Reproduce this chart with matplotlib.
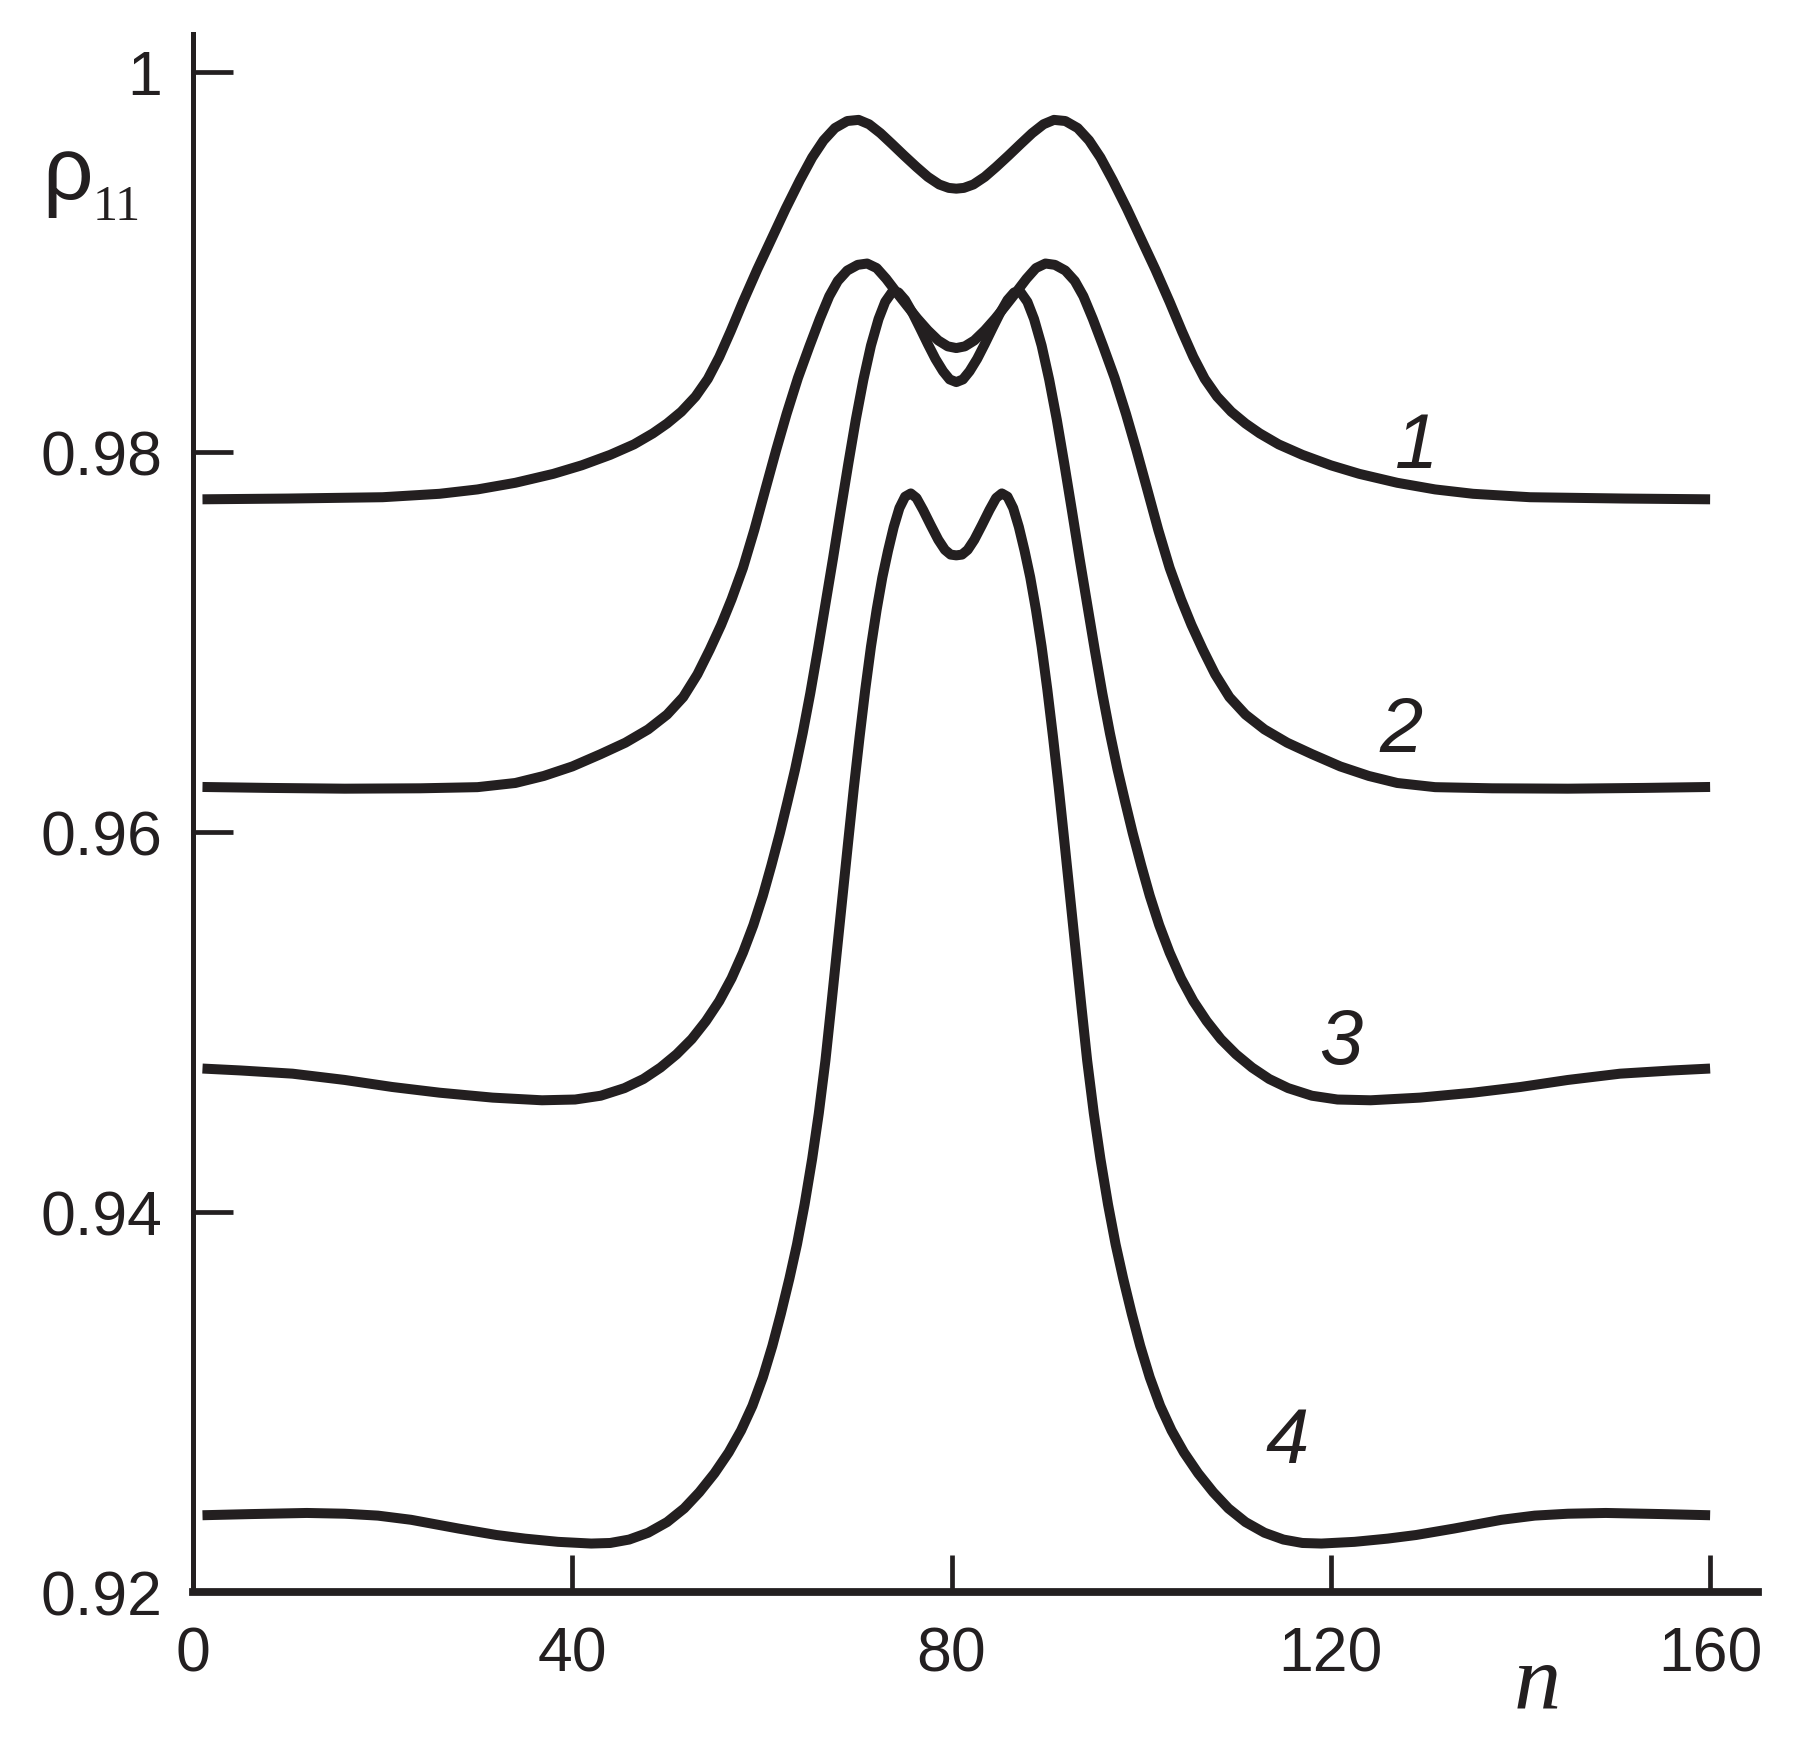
import matplotlib
matplotlib.use("Agg")
import matplotlib.pyplot as plt

# ---- data ----
n_1 = [1, 10, 20, 26, 30, 34, 38, 41, 44, 46.5, 48.5, 50, 51.5, 53, 54.3, 55.5, 56.7, 58, 59.5,
       61, 62.5, 64, 65.3, 66.5, 67.7, 69, 70.2, 71.3, 72.5, 73.7, 75, 76.3, 77.5, 78.7, 79.7,
       80.5,
       81.3, 82.3, 83.5, 84.7, 86, 87.3, 88.5, 89.7, 90.8, 92, 93.3, 94.5, 95.7, 97, 98.5, 100,
       101.5, 103, 104.3, 105.5, 106.7, 108, 109.5, 111, 112.5, 114.5, 117, 120, 123, 127, 131,
       135, 141, 151, 160]
rho_1 = [0.97751, 0.97755, 0.97762, 0.97780, 0.97803, 0.97838, 0.97885, 0.97930, 0.97985, 0.98040,
         0.98098, 0.98150, 0.98212, 0.98292, 0.98385, 0.98500, 0.98635, 0.98790, 0.98960, 0.99120,
         0.99280, 0.99430, 0.99550, 0.99640, 0.99705, 0.99742, 0.99748, 0.99725, 0.99678, 0.99622,
         0.99560, 0.99500, 0.99448, 0.99408, 0.99390, 0.99386,
         0.99390, 0.99408, 0.99448, 0.99500, 0.99560, 0.99622, 0.99678, 0.99725, 0.99748, 0.99742,
         0.99705, 0.99640, 0.99550, 0.99430, 0.99280, 0.99120, 0.98960, 0.98790, 0.98635, 0.98500,
         0.98385, 0.98292, 0.98212, 0.98150, 0.98098, 0.98040, 0.97985, 0.97930, 0.97885, 0.97838,
         0.97803, 0.97780, 0.97762, 0.97755, 0.97751]

n_2 = [1, 8, 16, 24, 30, 34, 37, 40, 43, 45.6, 48, 50, 51.7, 53.2, 54.5, 55.7, 56.8, 58, 59.2,
       60.4, 61.5, 62.6, 63.8, 65, 66.1, 67.1, 68, 69, 70.1, 71.1, 72.1, 73.1, 74.2, 75.3, 76.4,
       77.5, 78.6, 79.6, 80.5,
       81.4, 82.4, 83.5, 84.6, 85.7, 86.8, 87.9, 88.9, 89.9, 90.9, 92, 93, 93.9, 94.9, 96, 97.2,
       98.4, 99.5, 100.6, 101.8, 103, 104.2, 105.3, 106.5, 107.8, 109.3, 111, 113, 115.4, 118,
       121, 124, 127, 131, 137, 145, 153, 160]
rho_2 = [0.96237, 0.96232, 0.96228, 0.96230, 0.96236, 0.96258, 0.96295, 0.96345, 0.96410, 0.96470,
         0.96540, 0.96618, 0.96710, 0.96830, 0.96960, 0.97090, 0.97225, 0.97390, 0.97590, 0.97810,
         0.98010, 0.98200, 0.98390, 0.98555, 0.98700, 0.98820, 0.98900, 0.98955, 0.98985, 0.98992,
         0.98968, 0.98912, 0.98840, 0.98770, 0.98702, 0.98640, 0.98587, 0.98556, 0.98547,
         0.98556, 0.98587, 0.98640, 0.98702, 0.98770, 0.98840, 0.98912, 0.98968, 0.98992, 0.98985,
         0.98955, 0.98900, 0.98820, 0.98700, 0.98555, 0.98390, 0.98200, 0.98010, 0.97810, 0.97590,
         0.97390, 0.97225, 0.97090, 0.96960, 0.96830, 0.96710, 0.96618, 0.96540, 0.96470, 0.96410,
         0.96345, 0.96295, 0.96258, 0.96236, 0.96230, 0.96228, 0.96232, 0.96237]

n_3 = [1, 5, 10.5, 16, 21, 26, 31.6, 36.8, 40.3, 43, 45.5, 47.5, 49.3, 51, 52.6, 54.1, 55.5,
       56.8, 58, 59.1, 60.1, 61, 61.9, 62.7, 63.5, 64.3, 65.1, 65.9, 66.7, 67.5, 68.3, 69.1, 69.9,
       70.7, 71.5, 72.3, 73, 73.7, 74.4, 75.1, 75.9, 76.7, 77.5, 78.3, 79.1, 79.8, 80.5,
       81.2, 81.9, 82.7, 83.5, 84.3, 85.1, 85.9, 86.6, 87.3, 88, 88.7, 89.5, 90.3, 91.1, 91.9,
       92.7, 93.5, 94.3, 95.1, 95.9, 96.7, 97.5, 98.3, 99.1, 100, 100.9, 101.9, 103, 104.2, 105.5,
       106.9, 108.4, 110, 111.7, 113.5, 115.5, 118, 120.7, 124.2, 129.4, 135, 140, 145, 150.5,
       156, 160]
rho_3 = [0.94755, 0.94745, 0.94728, 0.94695, 0.94658, 0.94628, 0.94602, 0.94588, 0.94592, 0.94612,
         0.94652, 0.94700, 0.94760, 0.94830, 0.94910, 0.95005, 0.95110, 0.95230, 0.95365, 0.95510,
         0.95665, 0.95825, 0.95995, 0.96160, 0.96330, 0.96520, 0.96730, 0.96960, 0.97200, 0.97440,
         0.97690, 0.97935, 0.98170, 0.98380, 0.98560, 0.98700, 0.98790, 0.98840, 0.98840, 0.98800,
         0.98730, 0.98650, 0.98568, 0.98490, 0.98425, 0.98382, 0.98368,
         0.98382, 0.98425, 0.98490, 0.98568, 0.98650, 0.98730, 0.98800, 0.98840, 0.98840, 0.98790,
         0.98700, 0.98560, 0.98380, 0.98170, 0.97935, 0.97690, 0.97440, 0.97200, 0.96960, 0.96730,
         0.96520, 0.96330, 0.96160, 0.95995, 0.95825, 0.95665, 0.95510, 0.95365, 0.95230, 0.95110,
         0.95005, 0.94910, 0.94830, 0.94760, 0.94700, 0.94652, 0.94612, 0.94592, 0.94588, 0.94602,
         0.94628, 0.94658, 0.94695, 0.94728, 0.94745, 0.94755]

n_4 = [1, 6, 12, 16, 19.5, 23, 28, 32, 35, 38.5, 42, 44, 46, 48, 50, 51.8, 53.4, 55, 56.5, 57.8,
       59, 60.1, 61.1, 62, 62.9, 63.7, 64.5, 65.3, 66, 66.7, 67.3, 67.9, 68.5, 69.1, 69.7, 70.3,
       70.9, 71.5, 72.1, 72.7, 73.3, 73.9, 74.5, 75.1, 75.7, 76.3, 77, 77.8, 78.6, 79.3, 79.9,
       80.5,
       81.1, 81.7, 82.4, 83.2, 84, 84.7, 85.3, 85.9, 86.5, 87.1, 87.7, 88.3, 88.9, 89.5, 90.1,
       90.7, 91.3, 91.9, 92.5, 93.1, 93.7, 94.3, 95, 95.7, 96.5, 97.3, 98.1, 99, 99.9, 100.9,
       102, 103.2, 104.5, 106, 107.6, 109.2, 111, 113, 115, 117, 119, 122.5, 126, 129, 133, 138,
       141.5, 145, 149, 155, 160]
rho_4 = [0.92404, 0.92410, 0.92416, 0.92412, 0.92402, 0.92380, 0.92334, 0.92300, 0.92281, 0.92264,
         0.92255, 0.92258, 0.92276, 0.92312, 0.92368, 0.92440, 0.92525, 0.92625, 0.92735, 0.92850,
         0.92980, 0.93130, 0.93295, 0.93465, 0.93650, 0.93830, 0.94040, 0.94280, 0.94520, 0.94798,
         0.95080, 0.95370, 0.95660, 0.95950, 0.96235, 0.96500, 0.96750, 0.96975, 0.97170, 0.97340,
         0.97480, 0.97605, 0.97705, 0.97765, 0.97782, 0.97758, 0.97695, 0.97615, 0.97538, 0.97485,
         0.97460, 0.97456,
         0.97460, 0.97485, 0.97538, 0.97615, 0.97695, 0.97758, 0.97782, 0.97765, 0.97705, 0.97605,
         0.97480, 0.97340, 0.97170, 0.96975, 0.96750, 0.96500, 0.96235, 0.95950, 0.95660, 0.95370,
         0.95080, 0.94798, 0.94520, 0.94280, 0.94040, 0.93830, 0.93650, 0.93465, 0.93295, 0.93130,
         0.92980, 0.92850, 0.92735, 0.92625, 0.92525, 0.92440, 0.92368, 0.92312, 0.92276, 0.92258,
         0.92255, 0.92264, 0.92281, 0.92300, 0.92334, 0.92380, 0.92402, 0.92412, 0.92416, 0.92410,
         0.92404]

curve_names = ["1", "2", "3", "4"]
x_ticks = [0, 40, 80, 120, 160]
x_tick_labels = ["0", "40", "80", "120", "160"]
y_ticks = [0.92, 0.94, 0.96, 0.98, 1.0]
y_tick_labels = ["0.92", "0.94", "0.96", "0.98", "1"]

# ---- figure ----
ink = "#231f20"
W, H = 1810, 1741
fig = plt.figure(figsize=(W / 100, H / 100), dpi=100)

# axes box in pixels: left spine at x=193, x axis at y=1592 (from top)
ax = fig.add_axes([193 / W, (H - 1592) / H, (1758 - 193) / W, (1592 - 34) / H])
ax.set_xlim(0, 165.05)
ax.set_ylim(0.92, 1.0020)

for xs, ys in [(n_1, rho_1), (n_2, rho_2), (n_3, rho_3), (n_4, rho_4)]:
    ax.plot(xs, ys, color=ink, lw=7.2, solid_capstyle="butt", solid_joinstyle="round")

ax.spines["top"].set_visible(False)
ax.spines["right"].set_visible(False)
ax.spines["left"].set_linewidth(3.6)
ax.spines["bottom"].set_linewidth(5.6)
ax.spines["left"].set_color(ink)
ax.spines["bottom"].set_color(ink)

ax.set_xticks(x_ticks)
ax.set_xticklabels(x_tick_labels)
ax.set_yticks(y_ticks)
ax.set_yticklabels(y_tick_labels)
ax.tick_params(axis="x", direction="in", length=26.5, width=3.4, color=ink, pad=24,
               labelsize=45, labelcolor=ink)
ax.tick_params(axis="y", direction="in", length=28.5, width=3.4, color=ink, pad=22,
               labelsize=45, labelcolor=ink)
for lab in ax.get_xticklabels() + ax.get_yticklabels():
    lab.set_fontfamily("Liberation Sans")

# curve numbers
label_pos = [(129.0, 0.97914), (127.4, 0.96419), (121.0, 0.94777), (115.4, 0.92677)]
for name, (lx, ly) in zip(curve_names, label_pos):
    ax.text(lx, ly, name, ha="center", va="baseline", fontsize=56, style="italic",
            family="Liberation Sans", color=ink)

# axis titles
fig.text(67 / W, 1 - 200 / H, "\u03c1", ha="center", va="baseline", fontsize=64,
         family="Liberation Sans", color=ink)
fig.text(93 / W, 1 - 220 / H, "11", ha="left", va="baseline", fontsize=36,
         family="Liberation Serif", color=ink)
fig.text(1537 / W, 1 - 1708 / H, "n", ha="center", va="baseline", fontsize=68,
         family="Liberation Serif", style="italic", color=ink)

fig.savefig("out.png", dpi=100, facecolor="white")
